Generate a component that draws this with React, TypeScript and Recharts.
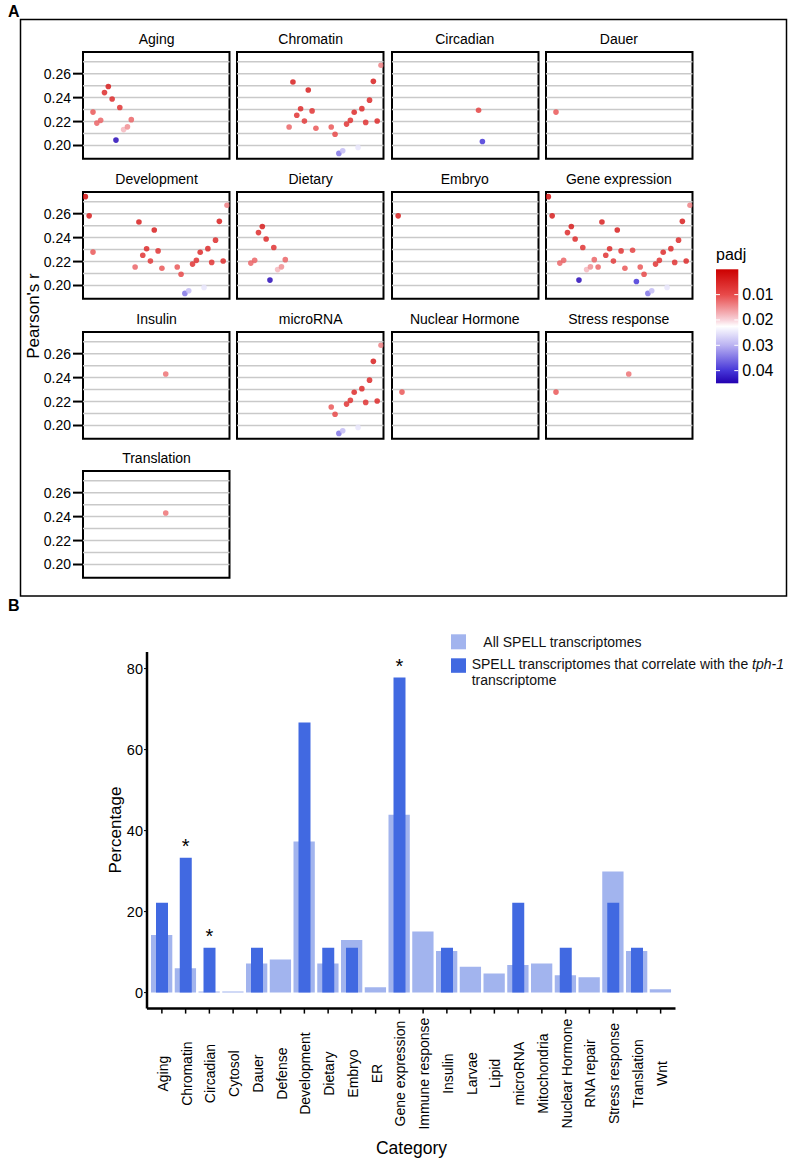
import React from 'react';
import {
  ScatterChart,
  Scatter,
  XAxis,
  YAxis,
  ReferenceLine,
  ReferenceArea,
  BarChart,
  Bar,
  LabelList,
} from 'recharts';

const FONT = '"Liberation Sans", Arial, Helvetica, sans-serif';

// ---------------- Panel A data ----------------
// datasets (x position = dataset index), Pearson's r and padj
const DATASET_ID = [
  1, 2, 3, 4, 5, 6, 7, 8, 9, 10, 11, 12, 13, 14, 15, 16, 17, 18, 19,
  20, 21, 22, 23, 24, 25, 26, 27, 28, 29, 30, 31, 32, 33, 34, 35, 36, 37, 38,
];
const PEARSON_R = [
  0.2742, 0.2582, 0.2279, 0.2187, 0.221, 0.2442, 0.2493, 0.2388, 0.2045, 0.2317,
  0.2133, 0.2156, 0.2216, 0.2154, 0.253, 0.2253, 0.2307, 0.2204, 0.2463, 0.2289,
  0.2144, 0.243, 0.2295, 0.2033, 0.2154, 0.2094, 0.1934, 0.1956, 0.2179, 0.221,
  0.2278, 0.1984, 0.2308, 0.2193, 0.2379, 0.2536, 0.2205, 0.267,
];
const PADJ = [
  0.002, 0.004, 0.011, 0.012, 0.012, 0.006, 0.004, 0.006, 0.044, 0.007,
  0.018, 0.015, 0.012, 0.012, 0.004, 0.007, 0.006, 0.008, 0.004, 0.007,
  0.011, 0.013, 0.009, 0.04, 0.011, 0.01, 0.035, 0.029, 0.007, 0.007,
  0.006, 0.025, 0.006, 0.007, 0.006, 0.004, 0.006, 0.014,
];

const FACETS = [
  'Aging', 'Chromatin', 'Circadian', 'Dauer',
  'Development', 'Dietary', 'Embryo', 'Gene expression',
  'Insulin', 'microRNA', 'Nuclear Hormone', 'Stress response',
  'Translation',
];
const AGING_IDS = [3, 4, 5, 6, 7, 8, 9, 10, 11, 12, 13];
const CHROMATIN_IDS = [14, 15, 16, 17, 18, 19, 20, 21, 25, 26, 27, 28, 29, 30, 31, 32, 33, 34, 35, 36, 37, 38];
const CIRCADIAN_IDS = [23, 24];
const DAUER_IDS = [3];
const DEVELOPMENT_IDS = [1, 2, 3, 14, 15, 16, 17, 18, 19, 20, 21, 25, 26, 27, 28, 29, 30, 31, 32, 33, 34, 35, 36, 37, 38];
const DIETARY_IDS = [4, 5, 6, 7, 8, 9, 10, 11, 12, 13];
const EMBRYO_IDS = [2];
const GENE_EXPRESSION_IDS = [1, 2, 4, 5, 6, 7, 8, 9, 10, 11, 12, 13, 14, 15, 16, 17, 18, 19, 20, 21, 23, 24, 25, 26, 27, 28, 29, 30, 31, 32, 33, 34, 35, 36, 37, 38];
const INSULIN_IDS = [22];
const MICRORNA_IDS = [25, 26, 27, 28, 29, 30, 31, 32, 33, 34, 35, 36, 37, 38];
const NUCLEAR_HORMONE_IDS = [3];
const STRESS_RESPONSE_IDS = [3, 22];
const TRANSLATION_IDS = [22];

const FACET_MEMBERS: Record<string, number[]> = {
  Aging: AGING_IDS,
  Chromatin: CHROMATIN_IDS,
  Circadian: CIRCADIAN_IDS,
  Dauer: DAUER_IDS,
  Development: DEVELOPMENT_IDS,
  Dietary: DIETARY_IDS,
  Embryo: EMBRYO_IDS,
  'Gene expression': GENE_EXPRESSION_IDS,
  Insulin: INSULIN_IDS,
  microRNA: MICRORNA_IDS,
  'Nuclear Hormone': NUCLEAR_HORMONE_IDS,
  'Stress response': STRESS_RESPONSE_IDS,
  Translation: TRANSLATION_IDS,
};

const R_TICKS = [0.2, 0.22, 0.24, 0.26];
const R_GRID = [0.2, 0.21, 0.22, 0.23, 0.24, 0.25, 0.26, 0.27];
const PADJ_TICKS = [0.01, 0.02, 0.03, 0.04];

// ---------------- Panel B data ----------------
const CATEGORIES = [
  'Aging', 'Chromatin', 'Circadian', 'Cytosol', 'Dauer', 'Defense', 'Development',
  'Dietary', 'Embryo', 'ER', 'Gene expression', 'Immune response', 'Insulin',
  'Larvae', 'Lipid', 'microRNA', 'Mitochondria', 'Nuclear Hormone', 'RNA repair',
  'Stress response', 'Translation', 'Wnt',
];
const ALL_PCT = [
  14.2, 6.0, 0.3, 0.3, 7.2, 8.2, 37.3, 7.2, 13.0, 1.3, 43.9, 15.1, 10.3, 6.4, 4.7,
  6.8, 7.2, 4.3, 3.8, 29.9, 10.3, 0.8,
];
const TPH_PCT = [
  22.2, 33.3, 11.1, 0, 11.1, 0, 66.7, 11.1, 11.1, 0, 77.8, 0, 11.1, 0, 0, 22.2, 0,
  11.1, 0, 22.2, 11.1, 0,
];
const SIGNIFICANT = ['Chromatin', 'Circadian', 'Gene expression'];
const PCT_TICKS = [0, 20, 40, 60, 80];

// ---------------- styling / layout ----------------
const LIGHT_BLUE = '#a2b4ee';
const DARK_BLUE = '#4169e1';

const COL_LEFT = [83.3, 237.4, 391.5, 545.6];
const ROW_TOP0 = 52.3;
const ROW_PITCH = 139.6;
const PW = 146.5;
const PH = 106.8;
const X_DOMAIN: [number, number] = [0.39, 38.65];
const R_DOMAIN: [number, number] = [0.1889, 0.2781];

const PADJ_STOPS: [number, string][] = [
  [0, '#cc0000'],
  [0.01, '#e84a4a'],
  [0.02, '#f8d2da'],
  [0.0225, '#ffffff'],
  [0.03, '#bab2f2'],
  [0.04, '#4636d8'],
  [0.045, '#2200b0'],
];
const PADJ_MIN = 0;
const PADJ_MAX = 0.045;

function hexToRgb(h: string): number[] {
  const v = parseInt(h.slice(1), 16);
  return [(v >> 16) & 255, (v >> 8) & 255, v & 255];
}
function padjColor(p: number): string {
  const s = PADJ_STOPS;
  if (p <= s[0][0]) return s[0][1];
  for (let i = 1; i < s.length; i++) {
    if (p <= s[i][0]) {
      const t = (p - s[i - 1][0]) / (s[i][0] - s[i - 1][0]);
      const a = hexToRgb(s[i - 1][1]);
      const b = hexToRgb(s[i][1]);
      const c = a.map((av, k) => Math.round(av + (b[k] - av) * t));
      return `rgb(${c[0]},${c[1]},${c[2]})`;
    }
  }
  return s[s.length - 1][1];
}

const Dot = (props: any) => {
  const { cx, cy, payload } = props;
  if (cx == null || cy == null) return null;
  return <circle cx={cx} cy={cy} r={2.8} fill={padjColor(payload.padj)} fillOpacity={0.85} />;
};

function Facet({ name, index }: { name: string; index: number }) {
  const col = index % 4;
  const row = Math.floor(index / 4);
  const plotLeft = COL_LEFT[col];
  const plotTop = ROW_TOP0 + ROW_PITCH * row;
  const showY = col === 0;
  const yw = showY ? 63 : 0;
  const data = FACET_MEMBERS[name].map((id) => ({
    x: DATASET_ID[id - 1],
    r: PEARSON_R[id - 1],
    padj: PADJ[id - 1],
  }));
  return (
    <div style={{ position: 'absolute', left: plotLeft - 2 - yw, top: plotTop - 2 }}>
      <ScatterChart width={PW + 4 + yw} height={PH + 4} margin={{ top: 2, right: 2, bottom: 2, left: 2 }}>
        <XAxis type="number" dataKey="x" domain={X_DOMAIN} hide allowDataOverflow />
        <YAxis
          type="number"
          dataKey="r"
          domain={R_DOMAIN}
          ticks={R_TICKS}
          allowDataOverflow
          hide={!showY}
          width={yw}
          axisLine={false}
          tickLine={{ stroke: '#000', strokeWidth: 2 }}
          tickSize={10}
          tickMargin={2}
          tick={{ fill: '#000', fontSize: 14, fontFamily: FONT }}
          tickFormatter={(v: number) => v.toFixed(2)}
        />
        {R_GRID.map((v) => (
          <ReferenceLine key={v} y={v} stroke="#c9c9c9" strokeWidth={1.5} />
        ))}
        <Scatter data={data} shape={Dot} isAnimationActive={false} />
        <ReferenceArea
          x1={X_DOMAIN[0]}
          x2={X_DOMAIN[1]}
          y1={R_DOMAIN[0]}
          y2={R_DOMAIN[1]}
          fill="none"
          fillOpacity={0}
          stroke="#000"
          strokeWidth={2}
          ifOverflow="visible"
        />
      </ScatterChart>
    </div>
  );
}

const CatTick = (props: any) => {
  const { x, y, payload } = props;
  const tx = Number(x) + 1;
  const cy = Number(y) + 58;
  return (
    <text
      x={tx}
      y={cy}
      transform={`rotate(-90 ${tx} ${cy})`}
      textAnchor="middle"
      dominantBaseline="central"
      fontSize={14}
      fill="#000"
      fontFamily={FONT}
    >
      {payload.value}
    </text>
  );
};

const Star = (props: any) => {
  const { x, y, width, value } = props;
  if (!value) return null;
  return (
    <text
      x={Number(x) + Number(width) / 2}
      y={Number(y) - 5}
      textAnchor="middle"
      fontSize={20}
      fill="#000"
      fontFamily={FONT}
    >
      {value}
    </text>
  );
};

const BAR_DATA = CATEGORIES.map((c, i) => ({
  cat: c,
  all: ALL_PCT[i],
  tph: TPH_PCT[i],
  star: SIGNIFICANT.includes(c) ? '*' : '',
}));

// padj legend geometry
const LEG_X = 716;
const LEG_Y = 269.3;
const LEG_W = 22.3;
const LEG_H = 114;
const legY = (p: number) => LEG_Y + ((p - PADJ_MIN) / (PADJ_MAX - PADJ_MIN)) * LEG_H;

export default function App() {
  return (
    <div
      style={{
        position: 'absolute',
        left: 0,
        top: 0,
        width: 792,
        height: 1160,
        background: '#fff',
        fontFamily: FONT,
        overflow: 'hidden',
      }}
    >
      {FACETS.map((f, i) => (
        <Facet key={f} name={f} index={i} />
      ))}

      <div style={{ position: 'absolute', left: 102.3, top: 646.7 }}>
        <BarChart
          width={578.5}
          height={491.6}
          data={BAR_DATA}
          margin={{ top: 5, right: 5, left: 0, bottom: 0 }}
        >
          <XAxis
            xAxisId="a"
            dataKey="cat"
            height={130}
            interval={0}
            padding={{ left: 3, right: 3 }}
            tickSize={5}
            tickLine={{ stroke: '#000', strokeWidth: 1.5 }}
            axisLine={{ stroke: '#000', strokeWidth: 2.5 }}
            tick={<CatTick />}
          />
          <XAxis xAxisId="b" dataKey="cat" hide padding={{ left: 3, right: 3 }} />
          <YAxis
            width={45}
            type="number"
            domain={[-3.95, 84.1]}
            ticks={PCT_TICKS}
            allowDataOverflow
            axisLine={{ stroke: '#000', strokeWidth: 2.5 }}
            tickLine={{ stroke: '#000', strokeWidth: 1 }}
            tickSize={3}
            tickMargin={1}
            tick={{ fill: '#000', fontSize: 14.5, fontFamily: FONT }}
          />
          <Bar dataKey="all" xAxisId="a" fill={LIGHT_BLUE} barSize={21.3} isAnimationActive={false} />
          <Bar dataKey="tph" xAxisId="b" fill={DARK_BLUE} barSize={12} isAnimationActive={false}>
            <LabelList dataKey="star" content={Star} />
          </Bar>
        </BarChart>
      </div>

      <svg
        width={792}
        height={1160}
        style={{ position: 'absolute', left: 0, top: 0, pointerEvents: 'none' }}
        fontFamily={FONT}
      >
        <defs>
          <linearGradient id="padjGrad" x1="0" y1="0" x2="0" y2="1">
            {PADJ_STOPS.map(([p, c]) => (
              <stop key={p} offset={(p - PADJ_MIN) / (PADJ_MAX - PADJ_MIN)} stopColor={c} />
            ))}
          </linearGradient>
        </defs>
        {/* Panel A frame */}
        <rect x={20.5} y={19.5} width={766} height={576.5} fill="none" stroke="#000" strokeWidth={1.5} />
        <text x={8} y={17} fontSize={16} fontWeight="bold" fill="#000">A</text>
        <text x={8} y={611} fontSize={16} fontWeight="bold" fill="#000">B</text>

        {FACETS.map((f, i) => {
          const col = i % 4;
          const row = Math.floor(i / 4);
          return (
            <text
              key={f}
              x={COL_LEFT[col] + PW / 2}
              y={ROW_TOP0 + ROW_PITCH * row - 8}
              textAnchor="middle"
              fontSize={14}
              fill="#000"
            >
              {f}
            </text>
          );
        })}

        <text x={38.5} y={316} transform="rotate(-90 38.5 316)" textAnchor="middle" fontSize={17} fill="#000">
          Pearson's r
        </text>

        {/* padj colour legend */}
        <text x={LEG_X} y={259.5} fontSize={16} fill="#000">padj</text>
        <rect x={LEG_X} y={LEG_Y} width={LEG_W} height={LEG_H} fill="url(#padjGrad)" />
        {PADJ_TICKS.map((p) => (
          <g key={p}>
            <line x1={LEG_X} x2={LEG_X + 4} y1={legY(p)} y2={legY(p)} stroke="#fff" strokeWidth={1} />
            <line x1={LEG_X + LEG_W - 4} x2={LEG_X + LEG_W} y1={legY(p)} y2={legY(p)} stroke="#fff" strokeWidth={1} />
            <text x={LEG_X + LEG_W + 4} y={legY(p)} dominantBaseline="central" fontSize={16} fill="#000">
              {p.toFixed(2)}
            </text>
          </g>
        ))}

        {/* Panel B axis titles */}
        <text x={120.5} y={830} transform="rotate(-90 120.5 830)" textAnchor="middle" fontSize={17} fill="#000">
          Percentage
        </text>
        <text x={411.5} y={1154} textAnchor="middle" fontSize={17.5} fill="#000">Category</text>

        {/* Panel B legend */}
        <rect x={451} y={634.3} width={15} height={15} fill={LIGHT_BLUE} />
        <text x={483.3} y={647} fontSize={14} fill="#111">All SPELL transcriptomes</text>
        <rect x={451} y={658.3} width={15} height={14.5} fill={DARK_BLUE} />
        <text x={471.7} y={668.7} fontSize={14} fill="#111">
          SPELL transcriptomes that correlate with the <tspan fontStyle="italic">tph-1</tspan>
        </text>
        <text x={471.7} y={685} fontSize={14} fill="#111">transcriptome</text>
      </svg>
    </div>
  );
}
